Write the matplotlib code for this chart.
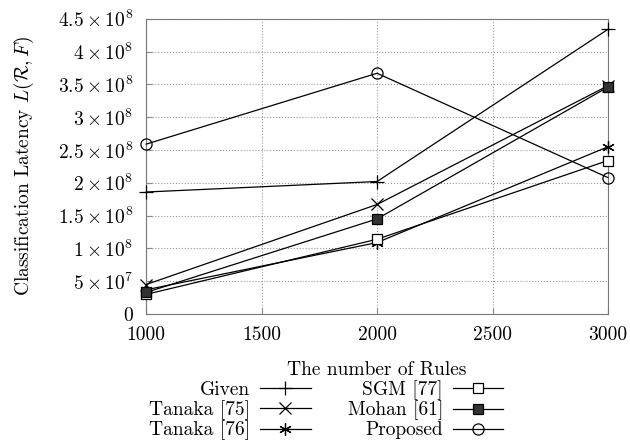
import matplotlib
matplotlib.use('Agg')
import matplotlib.pyplot as plt

plt.rcParams['font.family'] = 'serif'
plt.rcParams['font.serif'] = ['cmr10', 'DejaVu Serif']
plt.rcParams['mathtext.fontset'] = 'cm'
plt.rcParams['axes.formatter.use_mathtext'] = True

rules = [1000, 2000, 3000]
given = [1.86e8, 2.02e8, 4.34e8]
tanaka75 = [0.45e8, 1.67e8, 3.48e8]
tanaka76 = [0.37e8, 1.09e8, 2.55e8]
sgm = [0.30e8, 1.14e8, 2.34e8]
mohan = [0.33e8, 1.45e8, 3.46e8]
proposed = [2.59e8, 3.67e8, 2.08e8]

xticks = [1000, 1500, 2000, 2500, 3000]
yticks = [0, 0.5e8, 1e8, 1.5e8, 2e8, 2.5e8, 3e8, 3.5e8, 4e8, 4.5e8]
ytick_labels = [r'$0$', r'$5\times10^{7}$', r'$1\times10^{8}$', r'$1.5\times10^{8}$',
                r'$2\times10^{8}$', r'$2.5\times10^{8}$', r'$3\times10^{8}$',
                r'$3.5\times10^{8}$', r'$4\times10^{8}$', r'$4.5\times10^{8}$']

fig = plt.figure(figsize=(6.3, 4.48), dpi=100)
ax = fig.add_axes([0.232, 0.299, 0.733, 0.659])

kw = dict(color='black', lw=0.9, mew=0.9, clip_on=False, zorder=3)
ax.plot(rules, given, marker='+', ms=10, label='Given', **kw)
ax.plot(rules, tanaka75, marker='x', ms=9, label='Tanaka [75]', **kw)
ax.plot(rules, tanaka76, marker=(6, 2, 0), ms=9, label='Tanaka [76]', **kw)
ax.plot(rules, sgm, marker='s', mfc='white', ms=7, label='SGM [77]', **kw)
ax.plot(rules, mohan, marker='s', mfc='#333333', ms=7, label='Mohan [61]', **kw)
ax.plot(rules, proposed, marker='o', mfc='none', ms=8, label='Proposed', **kw)

ax.set_xlim(1000, 3000)
ax.set_ylim(0, 4.5e8)
ax.set_xticks(xticks)
ax.set_xticklabels([str(t) for t in xticks])
ax.set_yticks(yticks)
ax.set_yticklabels(ytick_labels)
ax.tick_params(direction='in', labelsize=14, length=4, color='#888888', pad=9)
ax.grid(True, ls=':', color='#999999', lw=0.8)
for s in ax.spines.values():
    s.set_color('#777777')
    s.set_linewidth(0.8)

ax.set_xlabel('The number of Rules', fontsize=14, labelpad=12)
ax.set_ylabel(r'Classification Latency $L(\mathcal{R}, F)$', fontsize=14, labelpad=16)

ax.legend(ncol=2, loc='upper center', bbox_to_anchor=(0.39, -0.19), frameon=False,
          markerfirst=False, fontsize=14, handlelength=2.6, labelspacing=0.05,
          columnspacing=1.9, handletextpad=0.5, borderpad=0)

fig.savefig('out.png', dpi=100)
